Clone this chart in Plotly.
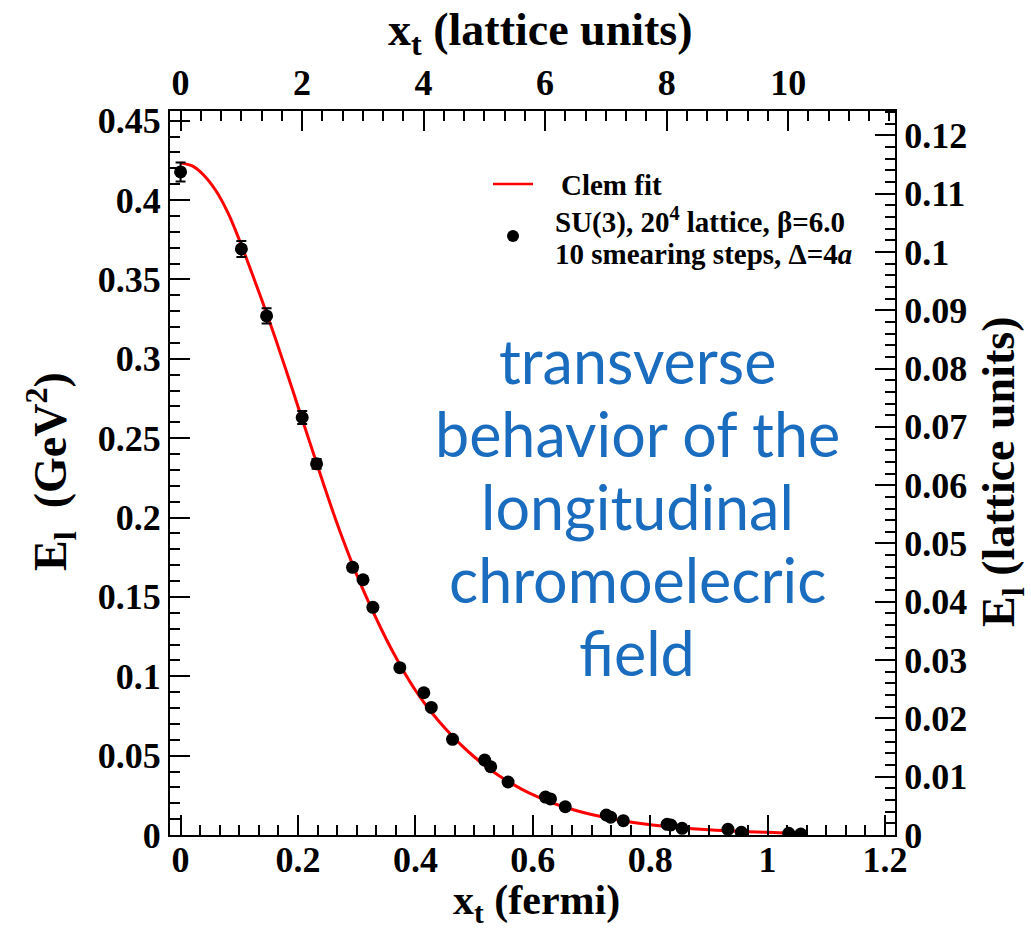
import plotly.graph_objects as go

# Transverse profile of the longitudinal chromoelectric field (SU(3), 20^4, beta=6.0)

# Lattice data: transverse distance (fermi), field strength (GeV^2), errors
x_fm = [0.0, 0.1036, 0.1465, 0.2072, 0.2317, 0.2930, 0.3108, 0.3276, 0.3735,
        0.4144, 0.4271, 0.4633, 0.5180, 0.5283, 0.5579, 0.6216, 0.6302, 0.6553,
        0.7252, 0.7326, 0.7542, 0.8288, 0.8352, 0.8543, 0.9324, 0.9552, 1.0360,
        1.0565]
e_gev = [0.4177, 0.3692, 0.3270, 0.2630, 0.2338, 0.1686, 0.1608, 0.1434, 0.1054,
         0.0896, 0.0804, 0.0603, 0.0472, 0.0430, 0.0334, 0.0239, 0.0227, 0.0178,
         0.0126, 0.0112, 0.0090, 0.0067, 0.0063, 0.0042, 0.0036, 0.0017, 0.0011,
         0.0006]
e_err = [0.0060, 0.0050, 0.0048, 0.0041, 0.0030, 0.0022, 0.0020, 0.0018, 0.0015,
         0.0015, 0.0012, 0.0010, 0.0010, 0.0010, 0.0008, 0.0006, 0.0006, 0.0005,
         0.0004, 0.0004, 0.0003, 0.0003, 0.0003, 0.0002, 0.0002, 0.0002, 0.0001,
         0.0001]

# Clem fit curve
fit_x = [0.0, 0.02, 0.04, 0.06, 0.08, 0.10, 0.12, 0.14, 0.16, 0.18, 0.20, 0.22,
         0.24, 0.26, 0.28, 0.30, 0.32, 0.34, 0.36, 0.38, 0.40, 0.42, 0.44, 0.46,
         0.48, 0.50, 0.52, 0.54, 0.56, 0.58, 0.60, 0.625, 0.65, 0.675, 0.70,
         0.75, 0.80, 0.85, 0.90, 0.95, 1.00, 1.05, 1.06]
fit_y = [0.4234, 0.4215, 0.4155, 0.4060, 0.3925, 0.3750, 0.3555, 0.3355, 0.3145,
         0.2925, 0.2700, 0.2475, 0.2250, 0.2032, 0.1828, 0.1640, 0.1470, 0.1312,
         0.1165, 0.1032, 0.0912, 0.0808, 0.0717, 0.0635, 0.0560, 0.0493, 0.0433,
         0.0380, 0.0333, 0.0291, 0.0254, 0.0214, 0.0181, 0.0153, 0.0129, 0.0092,
         0.0065, 0.0046, 0.00328, 0.00233, 0.00166, 0.00118, 0.0011]

# Axis conversions
A_FM = 0.1035     # lattice spacing, fermi
E_CONV = 3.673    # GeV^2 per lattice unit of field strength
X_MIN, X_MAX = -0.018, 1.217
Y_MIN, Y_MAX = 0.0, 0.4561

W, H = 1031, 931
L, R, T, B = 170, 136, 111, 96


def px(x):
    return (x - L) / (W - L - R)


def py(y):
    return (H - B - y) / (H - T - B)


SERIF = "Liberation Serif"
tick_font = dict(family=SERIF, size=36, color="black", weight="bold")

axis_style = dict(
    showline=True, linecolor="black", linewidth=2,
    ticks="inside", tickcolor="black", tickwidth=2, ticklen=20,
    showgrid=False, zeroline=False, tickfont=tick_font,
)


def minor(step):
    return dict(ticks="inside", ticklen=10, tickcolor="black", tickwidth=2,
                tick0=0, dtick=step)


fig = go.Figure()
fig.add_trace(go.Scatter(
    x=fit_x, y=fit_y, mode="lines", name="Clem fit",
    line=dict(color="red", width=3, shape="spline"),
    showlegend=False,
))
fig.add_trace(go.Scatter(
    x=x_fm, y=e_gev, mode="markers", name="SU(3), 20^4 lattice",
    marker=dict(color="black", size=13),
    error_y=dict(type="data", array=e_err, color="black", thickness=2, width=5),
    showlegend=False,
))
# Empty trace that attaches the lattice-unit axes (top and right)
fig.add_trace(go.Scatter(x=[], y=[], xaxis="x2", yaxis="y2", mode="markers",
                         showlegend=False, hoverinfo="skip"))

fig.update_layout(
    width=W, height=H,
    margin=dict(l=L, r=R, t=T, b=B),
    paper_bgcolor="white", plot_bgcolor="white",
    xaxis=dict(axis_style, range=[X_MIN, X_MAX], tick0=0, dtick=0.2,
               ticklabelstandoff=-8, minor=minor(0.2 / 6)),
    yaxis=dict(axis_style, range=[Y_MIN, Y_MAX], tick0=0, dtick=0.05,
               minor=minor(0.01)),
    xaxis2=dict(axis_style, overlaying="x", side="top", anchor="y",
                range=[X_MIN / A_FM, X_MAX / A_FM], tick0=0, dtick=2,
                minor=minor(1 / 3)),
    yaxis2=dict(axis_style, overlaying="y", side="right", anchor="x",
                range=[Y_MIN / E_CONV, Y_MAX / E_CONV], tick0=0, dtick=0.01,
                minor=minor(0.002)),
    showlegend=False,
)

title_font = dict(family=SERIF, size=46, color="black", weight="bold")
annotations = [
    dict(text="x<sub>t</sub> (lattice units)", x=px(540), y=py(33),
         font=title_font),
    dict(text="x<sub>t</sub> (fermi)", x=px(536), y=py(903),
         font=dict(title_font, size=42)),
    dict(text="E<sub>l</sub>  (GeV<sup>2</sup>)", x=px(50), y=py(472),
         textangle=-90, font=title_font),
    dict(text="E<sub>l</sub> (lattice units)", x=px(1002), y=py(472),
         textangle=-90, font=title_font),
]

# Legend entries
legend_font = dict(family=SERIF, size=29, color="black", weight="bold")
annotations += [
    dict(text="Clem fit", x=px(559), y=py(185), xanchor="left",
         font=legend_font),
    dict(text="SU(3), 20<sup>4</sup> lattice, \u03b2=6.0", x=px(553), y=py(220),
         xanchor="left", font=legend_font),
    dict(text="10 smearing steps, \u0394=4<i>a</i>", x=px(553), y=py(254),
         xanchor="left", font=legend_font),
]

# Caption inside the frame
blue_font = dict(family="Lato", size=61, color="#1a6cbf")
caption = ["transverse", "behavior of the", "longitudinal",
           "chromoelecric", "field"]
for i, line in enumerate(caption):
    annotations.append(dict(text=line, x=px(637), y=py(360 + 73 * i),
                            font=blue_font))

for a in annotations:
    a.setdefault("xref", "paper")
    a.setdefault("yref", "paper")
    a.setdefault("showarrow", False)
    a.setdefault("xanchor", "center")
    a.setdefault("yanchor", "middle")
fig.update_layout(annotations=annotations)

fig.update_layout(shapes=[
    dict(type="line", xref="paper", yref="paper",
         x0=px(493), x1=px(533), y0=py(184), y1=py(184),
         line=dict(color="red", width=2.5)),
    dict(type="circle", xref="paper", yref="paper", fillcolor="black",
         line=dict(color="black", width=0),
         x0=px(507), x1=px(519), y0=py(242), y1=py(230)),
])

fig.write_html("out.html")
